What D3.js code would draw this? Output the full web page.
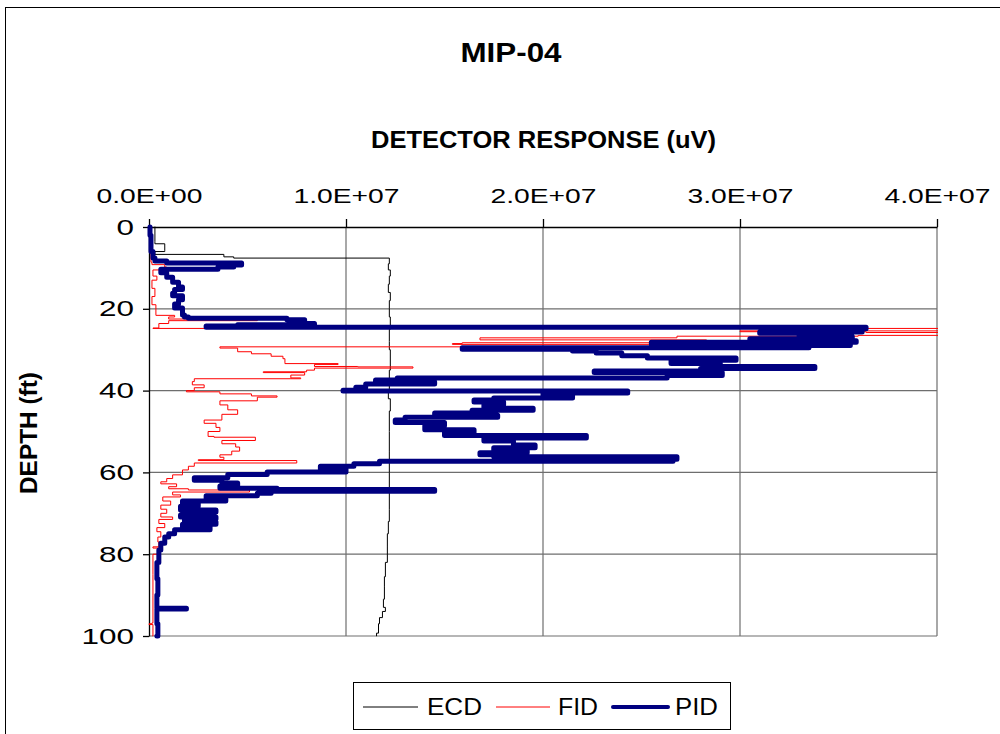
<!DOCTYPE html>
<html>
<head>
<meta charset="utf-8">
<script src="https://cdn.jsdelivr.net/npm/d3@7"></script>
<style>
html,body{margin:0;padding:0;background:#fff;}
svg{display:block;}
text{font-family:"Liberation Sans",Arial,sans-serif;fill:#000;}
</style>
</head>
<body>
<script>
// ---------- DATA (values in millions of uV, depth in ft) ----------
const UNIT = 1e6;
const chartTitle = "MIP-04";
const xAxisTitle = "DETECTOR RESPONSE (uV)";
const yAxisTitle = "DEPTH (ft)";
const xTicks = [0, 1e7, 2e7, 3e7, 4e7];
const yTicks = [0, 20, 40, 60, 80, 100];
const seriesNames = ["ECD", "FID", "PID"];

const ecdDepth = [0, 3.5, 3.9, 4.1, 5.8, 6.0, 6.5, 6.7, 7.1, 7.3, 7.6, 9, 10.5, 12, 14, 16, 18, 20, 22, 25, 28, 30, 35, 40, 42, 45, 50, 55, 60, 65, 69, 72, 75, 78, 82, 85.5, 88, 91, 93, 94, 95.5, 97, 99.3, 100];
const ecdValue = [0.3, 0.3, 0.3, 0.8, 0.8, 0.3, 0.3, 3.8, 3.8, 4.3, 12.2, 12.15, 12.25, 12.2, 12.15, 12.25, 12.2, 12.2, 12.25, 12.2, 12.2, 12.25, 12.2, 12.15, 12.25, 12.2, 12.2, 12.2, 12.2, 12.2, 12.2, 12.15, 12.1, 12.1, 12.0, 11.95, 11.95, 11.9, 12.0, 11.85, 11.7, 11.65, 11.55, 11.55];

const fidDepth = [0, 5, 8.6, 9.2, 9.8, 10.5, 11, 12, 13, 15, 17, 19, 21.5, 21.6, 22.0, 22.5, 22.9, 23.6, 24.7, 24.8, 25.3, 25.4, 25.6, 25.8, 26.4, 26.5, 26.7, 27.1, 27.6, 28.0, 28.3, 28.5, 28.7, 29.1, 29.3, 29.6, 30.5, 31.0, 31.6, 32.2, 33.2, 33.4, 33.6, 34.1, 34.2, 34.5, 35.0, 35.4, 35.6, 36.2, 36.9, 37.1, 37.8, 38.6, 39.3, 40.0, 40.3, 40.8, 41.3, 41.6, 42.5, 43.5, 44.7, 45.8, 47.2, 48.0, 49.0, 50.0, 51.2, 51.4, 52.2, 53.0, 53.8, 54.8, 55.7, 56.3, 56.9, 57.1, 57.7, 58.5, 59.4, 60.6, 61.5, 62.3, 62.8, 63.5, 64.0, 64.3, 64.8, 65.5, 66.0, 67, 68, 69, 70, 70.9, 71.5, 72.5, 73.5, 74.5, 75.8, 77, 78.2, 78.5, 80, 85, 90, 96.8, 97, 97.2, 100];
const fidValue = [0.1, 0.1, 0.15, 0.8, 0.9, 0.2, 0.2, 0.4, 0.15, 0.3, 0.15, 0.35, 0.35, 1.3, 1.0, 5.5, 1.0, 0.5, 0.2, 43, 43, 30.0, 36.4, 43, 43, 36.0, 26.8, 16.8, 28.3, 28.0, 15.9, 15.4, 28.5, 28.5, 3.6, 4.5, 5.2, 6.2, 6.8, 6.9, 6.9, 9.6, 8.4, 10.6, 13.4, 8.4, 8.0, 5.8, 7.9, 7.2, 7.7, 2.3, 2.2, 2.8, 2.3, 1.9, 3.6, 5.2, 6.5, 5.5, 3.6, 4.0, 4.5, 3.7, 2.8, 3.4, 3.6, 3.0, 3.3, 5.4, 3.7, 4.4, 4.6, 4.2, 3.6, 3.8, 2.5, 7.5, 2.3, 2.0, 1.7, 1.2, 0.9, 0.6, 1.4, 1.0, 2.0, 5.1, 1.2, 1.6, 0.7, 1.1, 0.6, 0.9, 0.6, 1.2, 0.5, 0.8, 0.4, 0.6, 0.45, 0.5, 0.2, 0.5, 0.2, 0.2, 0.2, 0.15, 0.0, 0.2, 0.2];

const pidDepth = [0, 2, 4, 6, 7.6, 8.3, 8.8, 9.3, 9.8, 10.3, 11.2, 12.3, 13.5, 14.7, 15.3, 16.2, 16.8, 17.8, 18.8, 19.8, 21.5, 22.0, 22.3, 22.7, 23.2, 23.6, 23.9, 24.2, 24.5, 24.9, 25.3, 25.7, 26.0, 26.4, 26.8, 27.3, 27.8, 28.2, 28.6, 29.0, 29.5, 29.9, 30.3, 30.8, 31.5, 32.0, 32.6, 33.4, 34.1, 34.6, 35.2, 35.6, 36.3, 36.9, 37.4, 37.9, 38.4, 39.2, 39.9, 40.1, 40.6, 41.2, 41.8, 42.3, 42.8, 43.5, 44.3, 44.8, 45.5, 46.0, 46.5, 47.2, 47.8, 48.6, 49.6, 50.3, 51.0, 51.6, 52.3, 53.3, 54.0, 54.5, 55.2, 55.7, 56.2, 56.8, 57.3, 57.9, 58.5, 59.2, 59.9, 60.5, 61.3, 61.9, 62.6, 63.3, 63.9, 64.2, 64.6, 65.1, 65.7, 66.5, 67.0, 67.6, 68.3, 69.2, 69.7, 70.4, 70.9, 71.4, 72.1, 72.7, 73.3, 74.0, 75.0, 75.8, 77.3, 79.0, 82, 86, 90, 93.0, 93.2, 93.4, 97, 100];
const pidValue = [0.05, 0.1, 0.1, 0.2, 0.3, 0.9, 4.7, 4.3, 3.5, 0.6, 0.9, 1.2, 1.5, 1.7, 1.3, 1.2, 1.7, 1.5, 1.3, 1.7, 1.8, 2.0, 7.0, 7.9, 7.3, 8.4, 4.5, 2.9, 36.4, 34.0, 36.2, 31.0, 35.5, 33.0, 35.7, 30.5, 35.9, 25.5, 35.6, 33.5, 15.9, 21.5, 22.7, 24.0, 25.3, 29.8, 26.5, 29.0, 33.8, 28.0, 22.6, 29.1, 26.3, 12.6, 11.5, 14.5, 11.0, 10.5, 9.85, 24.3, 20.0, 21.5, 17.5, 16.5, 18.0, 17.0, 19.5, 16.4, 14.5, 17.7, 13.0, 12.5, 15.0, 14.0, 16.5, 15.0, 22.2, 17.0, 18.5, 19.6, 17.5, 19.2, 16.8, 17.5, 26.8, 26.6, 11.7, 10.4, 8.7, 10.0, 6.0, 4.0, 2.3, 3.7, 4.5, 3.6, 6.5, 14.5, 6.2, 5.5, 2.9, 3.9, 1.7, 2.5, 1.6, 3.4, 1.8, 1.6, 3.4, 1.8, 3.4, 1.7, 3.1, 1.3, 1.0, 0.8, 0.6, 0.5, 0.4, 0.45, 0.4, 0.4, 1.9, 0.4, 0.45, 0.4];

const seriesColors = ["#000000", "#FF0000", "#000080"];
const seriesWidths = [1, 1, 5];

// ---------- LAYOUT ----------
const W = 1000, H = 734;
const svg = d3.select("body").append("svg").attr("width", W).attr("height", H);

svg.append("rect").attr("x", 5.5).attr("y", 7.5).attr("width", 1010).attr("height", 760)
  .attr("fill", "#fff").attr("stroke", "#000").attr("stroke-width", 1);

const x = d3.scaleLinear().domain([0, 4e7]).range([149, 937]);
const y = d3.scaleLinear().domain([0, 100]).range([227, 636]);

// gridlines
svg.append("g").selectAll("line.v").data(xTicks.slice(1)).join("line")
  .attr("x1", d => x(d)).attr("x2", d => x(d)).attr("y1", y(0)).attr("y2", y(100))
  .attr("stroke", "#6e6e6e").attr("stroke-width", 1.2);
svg.append("g").selectAll("line.h").data(yTicks.slice(1)).join("line")
  .attr("x1", x(0)).attr("x2", x(4e7)).attr("y1", d => y(d)).attr("y2", d => y(d))
  .attr("stroke", "#6e6e6e").attr("stroke-width", 1.2);

function fmtE(v) {
  if (v === 0) return "0.0E+00";
  const e = Math.floor(Math.log10(v));
  const m = v / Math.pow(10, e);
  return m.toFixed(1) + "E+" + String(e).padStart(2, "0");
}

// axes
const xAxis = svg.append("g").attr("transform", `translate(0,${y(0)})`)
  .call(d3.axisTop(x).tickValues(xTicks).tickSize(8).tickSizeOuter(0).tickPadding(16).tickFormat(fmtE));
xAxis.selectAll("text").attr("font-size", 21).attr("font-family", '"Liberation Sans",Arial')
  .attr("textLength", 106).attr("lengthAdjust", "spacingAndGlyphs").attr("fill", "#000");
xAxis.selectAll("line,path").attr("stroke", "#000").attr("stroke-width", 1.3);

const yAxis = svg.append("g").attr("transform", `translate(${x(0)},0)`)
  .call(d3.axisLeft(y).tickValues(yTicks).tickSize(6).tickSizeOuter(0).tickPadding(9));
yAxis.selectAll("text").attr("font-size", 22).attr("font-family", '"Liberation Sans",Arial')
  .attr("textLength", d => String(d).length * 17.5).attr("lengthAdjust", "spacingAndGlyphs").attr("fill", "#000");
yAxis.selectAll("line,path").attr("stroke", "#000").attr("stroke-width", 1.3);

// clip
svg.append("clipPath").attr("id", "plotclip").append("rect")
  .attr("x", 146).attr("y", 222).attr("width", 792).attr("height", 418);

const depths = [ecdDepth, fidDepth, pidDepth];
const values = [ecdValue, fidValue, pidValue];
const line = d3.line().curve(d3.curveStepBefore).x(d => x(d.v * UNIT)).y(d => y(d.d));
const plot = svg.append("g").attr("clip-path", "url(#plotclip)");
seriesNames.forEach((name, i) => {
  const pts = depths[i].map((d, j) => ({ d: d, v: values[i][j] }));
  plot.append("path").datum(pts).attr("d", line)
    .attr("fill", "none").attr("stroke", seriesColors[i]).attr("stroke-width", seriesWidths[i])
    .attr("stroke-linejoin", "round").attr("stroke-linecap", "round");
});

// titles
svg.append("text").attr("x", 511).attr("y", 62).attr("text-anchor", "middle")
  .attr("font-size", 27).attr("font-weight", "bold")
  .attr("textLength", 101).attr("lengthAdjust", "spacingAndGlyphs").text(chartTitle);
svg.append("text").attr("x", 543.5).attr("y", 148).attr("text-anchor", "middle")
  .attr("font-size", 23).attr("font-weight", "bold")
  .attr("textLength", 345).attr("lengthAdjust", "spacingAndGlyphs").text(xAxisTitle);
svg.append("text").attr("transform", "translate(37,433) rotate(-90)").attr("text-anchor", "middle")
  .attr("font-size", 23).attr("font-weight", "bold")
  .attr("textLength", 122).attr("lengthAdjust", "spacingAndGlyphs").text(yAxisTitle);

// legend
const lg = svg.append("g");
lg.append("rect").attr("x", 353.5).attr("y", 682.5).attr("width", 377).attr("height", 47)
  .attr("fill", "#fff").attr("stroke", "#000").attr("stroke-width", 1);
const legendItems = [
  { x1: 363, x2: 418, tx: 427, tl: 55 },
  { x1: 496, x2: 550, tx: 558, tl: 40 },
  { x1: 613, x2: 668, tx: 675, tl: 43 }
];
seriesNames.forEach((name, i) => {
  const it = legendItems[i];
  lg.append("line").attr("x1", it.x1).attr("x2", it.x2).attr("y1", 707).attr("y2", 707)
    .attr("stroke", seriesColors[i]).attr("stroke-width", seriesWidths[i] > 2 ? 4 : 1)
    .attr("stroke-linecap", seriesWidths[i] > 2 ? "round" : "butt");
  lg.append("text").attr("x", it.tx).attr("y", 715).attr("font-size", 23)
    .attr("textLength", it.tl).attr("lengthAdjust", "spacingAndGlyphs").text(name);
});
</script>
</body>
</html>
